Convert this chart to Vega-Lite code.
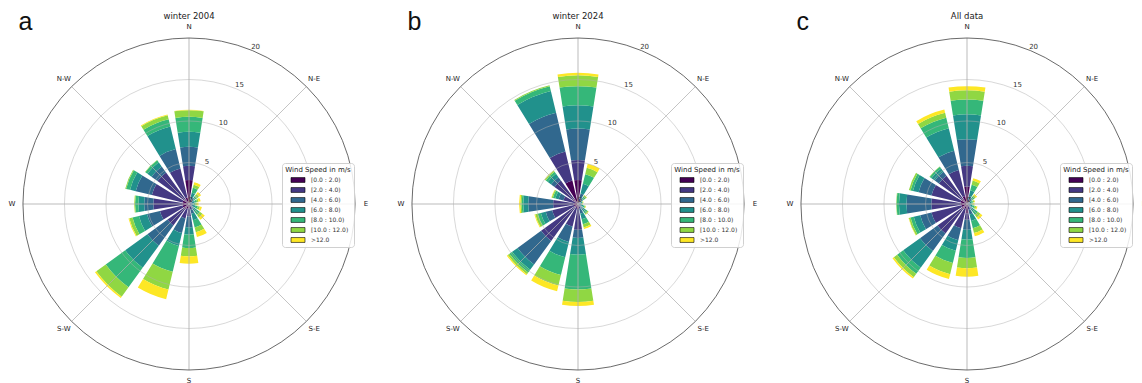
{
"$schema": "https://vega.github.io/schema/vega-lite/v6.json",
"padding": 0,
"spacing": 11,
"config": {"font": "DejaVu Sans", "view": {"stroke": null}},
"resolve": {"scale": {"color": "independent"}, "legend": {"color": "independent"}},
"datasets": {
"bins": [
{"key":"b0","label":"[0.0 : 2.0)"},{"key":"b1","label":"[2.0 : 4.0)"},{"key":"b2","label":"[4.0 : 6.0)"},{"key":"b3","label":"[6.0 : 8.0)"},{"key":"b4","label":"[8.0 : 10.0)"},{"key":"b5","label":"[10.0 : 12.0)"},{"key":"b6","label":">12.0"}],
"dirs": [{"lab":"N","deg":0},{"lab":"N-E","deg":45},{"lab":"E","deg":90},{"lab":"S-E","deg":135},{"lab":"S","deg":180},{"lab":"S-W","deg":225},{"lab":"W","deg":270},{"lab":"N-W","deg":315}],
"ticks": [{"v":0,"t":"0"},{"v":5,"t":"5"},{"v":10,"t":"10"},{"v":15,"t":"15"},{"v":20,"t":"20"}],
"rings": [{"r":5},{"r":10},{"r":15}],
"outer": [{"r":20}],
"rose": [
{"p":"a","dir":0,"b0":2.9,"b1":1.7,"b2":2.3,"b3":1.8,"b4":1.8,"b5":0.8,"b6":0.05},
{"p":"a","dir":22.5,"b0":0.3,"b1":0.3,"b2":0.3,"b3":0.5,"b4":0.6,"b5":0.4,"b6":0.3},
{"p":"a","dir":45,"b0":0.2,"b1":0.2,"b2":0.2,"b3":0.3,"b4":0.3,"b5":0.3,"b6":0.3},
{"p":"a","dir":67.5,"b0":0.15,"b1":0.15,"b2":0.2,"b3":0.2,"b4":0.3,"b5":0.2,"b6":0.25},
{"p":"a","dir":90,"b0":0.1,"b1":0.1,"b2":0.15,"b3":0.2,"b4":0.2,"b5":0.2,"b6":0.2},
{"p":"a","dir":112.5,"b0":0.15,"b1":0.15,"b2":0.2,"b3":0.3,"b4":0.3,"b5":0.25,"b6":0.25},
{"p":"a","dir":135,"b0":0.2,"b1":0.2,"b2":0.3,"b3":0.4,"b4":0.5,"b5":0.4,"b6":0.35},
{"p":"a","dir":157.5,"b0":0.3,"b1":0.4,"b2":0.5,"b3":0.8,"b4":0.9,"b5":0.6,"b6":0.6},
{"p":"a","dir":180,"b0":0.5,"b1":1.0,"b2":1.3,"b3":0.9,"b4":1.6,"b5":1.0,"b6":0.9},
{"p":"a","dir":202.5,"b0":0.6,"b1":1.2,"b2":1.8,"b3":1.6,"b4":3.2,"b5":2.2,"b6":1.2},
{"p":"a","dir":225,"b0":0.8,"b1":2.4,"b2":3.0,"b3":3.3,"b4":2.9,"b5":1.4,"b6":0.2},
{"p":"a","dir":247.5,"b0":0.8,"b1":2.8,"b2":1.6,"b3":1.0,"b4":0.8,"b5":0.4,"b6":0.1},
{"p":"a","dir":270,"b0":0.8,"b1":3.5,"b2":1.1,"b3":0.7,"b4":0.4,"b5":0.1,"b6":0.02},
{"p":"a","dir":292.5,"b0":0.8,"b1":3.8,"b2":2.0,"b3":0.7,"b4":0.5,"b5":0.1,"b6":0},
{"p":"a","dir":315,"b0":0.7,"b1":4.0,"b2":0.9,"b3":0.6,"b4":0.3,"b5":0.05,"b6":0},
{"p":"a","dir":337.5,"b0":0.8,"b1":3.6,"b2":2.4,"b3":2.8,"b4":0.9,"b5":0.5,"b6":0.1},
{"p":"b","dir":0,"b0":2.9,"b1":2.4,"b2":3.8,"b3":2.8,"b4":2.3,"b5":1.3,"b6":0.3},
{"p":"b","dir":22.5,"b0":0.3,"b1":0.4,"b2":0.6,"b3":1.2,"b4":1.2,"b5":0.8,"b6":0.5},
{"p":"b","dir":45,"b0":0.1,"b1":0.1,"b2":0.2,"b3":0.4,"b4":0.3,"b5":0.2,"b6":0.05},
{"p":"b","dir":67.5,"b0":0.1,"b1":0.1,"b2":0.15,"b3":0.15,"b4":0.1,"b5":0.05,"b6":0.05},
{"p":"b","dir":90,"b0":0.1,"b1":0.1,"b2":0.1,"b3":0.1,"b4":0.1,"b5":0.05,"b6":0.05},
{"p":"b","dir":112.5,"b0":0.1,"b1":0.15,"b2":0.2,"b3":0.2,"b4":0.2,"b5":0.1,"b6":0.05},
{"p":"b","dir":135,"b0":0.15,"b1":0.25,"b2":0.3,"b3":0.4,"b4":0.3,"b5":0.15,"b6":0.05},
{"p":"b","dir":157.5,"b0":0.2,"b1":0.4,"b2":0.6,"b3":0.7,"b4":0.6,"b5":0.4,"b6":0.2},
{"p":"b","dir":180,"b0":0.6,"b1":2.5,"b2":1.0,"b3":2.0,"b4":4.2,"b5":1.5,"b6":0.5},
{"p":"b","dir":202.5,"b0":0.5,"b1":2.3,"b2":1.9,"b3":1.9,"b4":2.2,"b5":1.3,"b6":0.7},
{"p":"b","dir":225,"b0":0.5,"b1":5.0,"b2":3.5,"b3":0.8,"b4":0.4,"b5":0.25,"b6":0.15},
{"p":"b","dir":247.5,"b0":0.5,"b1":2.7,"b2":0.8,"b3":0.6,"b4":0.4,"b5":0.3,"b6":0.1},
{"p":"b","dir":270,"b0":0.5,"b1":2.5,"b2":3.0,"b3":0.6,"b4":0.2,"b5":0.15,"b6":0.15},
{"p":"b","dir":292.5,"b0":0.4,"b1":1.4,"b2":0.6,"b3":0.4,"b4":0.3,"b5":0.15,"b6":0.05},
{"p":"b","dir":315,"b0":0.8,"b1":2.7,"b2":0.5,"b3":0.5,"b4":0.3,"b5":0.15,"b6":0.05},
{"p":"b","dir":337.5,"b0":2.9,"b1":3.6,"b2":4.8,"b3":2.7,"b4":0.6,"b5":0.1,"b6":0},
{"p":"c","dir":0,"b0":2.1,"b1":2.5,"b2":3.2,"b3":3.0,"b4":1.8,"b5":1.1,"b6":0.5},
{"p":"c","dir":22.5,"b0":0.3,"b1":0.3,"b2":0.4,"b3":0.7,"b4":0.7,"b5":0.5,"b6":0.3},
{"p":"c","dir":45,"b0":0.2,"b1":0.15,"b2":0.2,"b3":0.25,"b4":0.3,"b5":0.2,"b6":0.2},
{"p":"c","dir":67.5,"b0":0.1,"b1":0.1,"b2":0.15,"b3":0.2,"b4":0.2,"b5":0.15,"b6":0.1},
{"p":"c","dir":90,"b0":0.1,"b1":0.1,"b2":0.15,"b3":0.15,"b4":0.15,"b5":0.15,"b6":0.1},
{"p":"c","dir":112.5,"b0":0.1,"b1":0.15,"b2":0.2,"b3":0.25,"b4":0.25,"b5":0.2,"b6":0.15},
{"p":"c","dir":135,"b0":0.2,"b1":0.2,"b2":0.3,"b3":0.4,"b4":0.5,"b5":0.4,"b6":0.3},
{"p":"c","dir":157.5,"b0":0.3,"b1":0.4,"b2":0.6,"b3":0.8,"b4":0.9,"b5":0.6,"b6":0.4},
{"p":"c","dir":180,"b0":1.1,"b1":0.8,"b2":1.2,"b3":1.2,"b4":2.2,"b5":1.25,"b6":1.0},
{"p":"c","dir":202.5,"b0":0.6,"b1":2.4,"b2":1.5,"b3":1.3,"b4":1.5,"b5":1.4,"b6":0.6},
{"p":"c","dir":225,"b0":0.8,"b1":3.6,"b2":2.6,"b3":2.5,"b4":0.9,"b5":0.5,"b6":0.2},
{"p":"c","dir":247.5,"b0":0.7,"b1":3.7,"b2":1.4,"b3":0.8,"b4":0.4,"b5":0.2,"b6":0.05},
{"p":"c","dir":270,"b0":0.8,"b1":3.5,"b2":3.0,"b3":0.9,"b4":0.3,"b5":0.05,"b6":0},
{"p":"c","dir":292.5,"b0":0.8,"b1":3.6,"b2":1.6,"b3":0.7,"b4":0.3,"b5":0.2,"b6":0},
{"p":"c","dir":315,"b0":0.8,"b1":3.4,"b2":0.6,"b3":0.5,"b4":0.25,"b5":0.05,"b6":0},
{"p":"c","dir":337.5,"b0":1.0,"b1":3.2,"b2":2.4,"b3":2.8,"b4":1.3,"b5":0.6,"b6":0.4}
]
},
"hconcat": [
{
"width": 378, "height": 408,
"title": {"text": "winter 2004", "fontSize": 8.5, "fontWeight": "normal", "color": "#222", "offset": -20, "anchor": "middle"},
"layer": [
{"data": {"name": "rose"},
 "transform": [
  {"filter": "datum.p == 'a'"},
  {"fold": ["b0","b1","b2","b3","b4","b5","b6"], "as": ["key","freq"]},
  {"lookup": "key", "from": {"data": {"name": "bins"}, "key": "key", "fields": ["label"]}},
  {"stack": "freq", "groupby": ["dir"], "sort": [{"field": "key", "order": "ascending"}], "as": ["r0","r1"]},
  {"calculate": "datum.dir - 9", "as": "a0"},
  {"calculate": "datum.dir + 9", "as": "a1"}
 ],
 "mark": {"type": "arc"},
 "encoding": {
  "theta": {"field": "a0", "type": "quantitative", "stack": null, "scale": {"domain": [0,360], "range": [0,6.283185307179586]}},
  "theta2": {"field": "a1"},
  "radius": {"field": "r1", "type": "quantitative", "stack": null, "scale": {"type": "linear", "domain": [0,20], "range": [0,166], "zero": true}},
  "radius2": {"field": "r0"},
  "color": {"field": "label", "type": "nominal",
   "scale": {"domain": ["[0.0 : 2.0)","[2.0 : 4.0)","[4.0 : 6.0)","[6.0 : 8.0)","[8.0 : 10.0)","[10.0 : 12.0)",">12.0"], "range": ["#440154","#443983","#31688e","#21918c","#35b779","#90d743","#fde725"]},
   "legend": {"title": "Wind Speed in m/s", "orient": "none", "legendX": 282, "legendY": 163, "titleFontSize": 7, "titleFontWeight": "normal", "titleColor": "#222", "titleAnchor": "middle", "titlePadding": 3, "labelFontSize": 6, "labelColor": "#333", "symbolType": "M-2,-0.7L2,-0.7L2,0.7L-2,0.7Z", "symbolSize": 49, "symbolStrokeColor": "black", "symbolStrokeWidth": 0.6, "symbolOffset": 6, "labelOffset": 9, "rowPadding": 2, "padding": 3, "fillColor": "rgba(255,255,255,0.85)", "strokeColor": "#d0d0d0", "cornerRadius": 3}}
 }},
{"data": {"name": "rings"}, "mark": {"type": "arc", "filled": false, "stroke": "#b0b0b0", "strokeWidth": 0.7, "strokeOpacity": 0.7},
 "encoding": {"theta": {"datum": 0, "type": "quantitative", "stack": null}, "theta2": {"datum": 360}, "radius": {"field": "r", "type": "quantitative", "stack": null}}},
{"data": {"name": "dirs"}, "mark": {"type": "arc", "filled": false, "stroke": "#b0b0b0", "strokeWidth": 0.7, "strokeOpacity": 0.7},
 "encoding": {"theta": {"field": "deg", "type": "quantitative", "stack": null}, "theta2": {"field": "deg"}, "radius": {"datum": 20, "type": "quantitative", "stack": null}}},
{"data": {"name": "outer"}, "mark": {"type": "arc", "filled": false, "stroke": "#444", "strokeWidth": 0.8},
 "encoding": {"theta": {"datum": 0, "type": "quantitative", "stack": null}, "theta2": {"datum": 360}, "radius": {"field": "r", "type": "quantitative", "stack": null}}},
{"data": {"name": "dirs"}, "mark": {"type": "text", "radiusOffset": 11, "fontSize": 7, "color": "#222"},
 "encoding": {"theta": {"field": "deg", "type": "quantitative", "stack": null}, "radius": {"datum": 20, "type": "quantitative", "stack": null}, "text": {"field": "lab"}}},
{"data": {"name": "ticks"}, "mark": {"type": "text", "radiusOffset": 4.5, "fontSize": 7, "color": "#333"},
 "encoding": {"theta": {"datum": 23, "type": "quantitative", "stack": null}, "radius": {"field": "v", "type": "quantitative", "stack": null}, "text": {"field": "t"}}},
{"data": {"values": [{"t": "a"}]}, "mark": {"type": "text", "fontSize": 25, "font": "Liberation Sans", "align": "left", "baseline": "alphabetic", "color": "#111"},
 "encoding": {"theta": {"datum": 315.6, "type": "quantitative", "stack": null}, "radius": {"datum": 29.35, "type": "quantitative", "stack": null}, "text": {"field": "t"}}}
]
},
{
"width": 378, "height": 408,
"title": {"text": "winter 2024", "fontSize": 8.5, "fontWeight": "normal", "color": "#222", "offset": -20, "anchor": "middle"},
"layer": [
{"data": {"name": "rose"},
 "transform": [
  {"filter": "datum.p == 'b'"},
  {"fold": ["b0","b1","b2","b3","b4","b5","b6"], "as": ["key","freq"]},
  {"lookup": "key", "from": {"data": {"name": "bins"}, "key": "key", "fields": ["label"]}},
  {"stack": "freq", "groupby": ["dir"], "sort": [{"field": "key", "order": "ascending"}], "as": ["r0","r1"]},
  {"calculate": "datum.dir - 9", "as": "a0"},
  {"calculate": "datum.dir + 9", "as": "a1"}
 ],
 "mark": {"type": "arc"},
 "encoding": {
  "theta": {"field": "a0", "type": "quantitative", "stack": null, "scale": {"domain": [0,360], "range": [0,6.283185307179586]}},
  "theta2": {"field": "a1"},
  "radius": {"field": "r1", "type": "quantitative", "stack": null, "scale": {"type": "linear", "domain": [0,20], "range": [0,166], "zero": true}},
  "radius2": {"field": "r0"},
  "color": {"field": "label", "type": "nominal",
   "scale": {"domain": ["[0.0 : 2.0)","[2.0 : 4.0)","[4.0 : 6.0)","[6.0 : 8.0)","[8.0 : 10.0)","[10.0 : 12.0)",">12.0"], "range": ["#440154","#443983","#31688e","#21918c","#35b779","#90d743","#fde725"]},
   "legend": {"title": "Wind Speed in m/s", "orient": "none", "legendX": 282, "legendY": 163, "titleFontSize": 7, "titleFontWeight": "normal", "titleColor": "#222", "titleAnchor": "middle", "titlePadding": 3, "labelFontSize": 6, "labelColor": "#333", "symbolType": "M-2,-0.7L2,-0.7L2,0.7L-2,0.7Z", "symbolSize": 49, "symbolStrokeColor": "black", "symbolStrokeWidth": 0.6, "symbolOffset": 6, "labelOffset": 9, "rowPadding": 2, "padding": 3, "fillColor": "rgba(255,255,255,0.85)", "strokeColor": "#d0d0d0", "cornerRadius": 3}}
 }},
{"data": {"name": "rings"}, "mark": {"type": "arc", "filled": false, "stroke": "#b0b0b0", "strokeWidth": 0.7, "strokeOpacity": 0.7},
 "encoding": {"theta": {"datum": 0, "type": "quantitative", "stack": null}, "theta2": {"datum": 360}, "radius": {"field": "r", "type": "quantitative", "stack": null}}},
{"data": {"name": "dirs"}, "mark": {"type": "arc", "filled": false, "stroke": "#b0b0b0", "strokeWidth": 0.7, "strokeOpacity": 0.7},
 "encoding": {"theta": {"field": "deg", "type": "quantitative", "stack": null}, "theta2": {"field": "deg"}, "radius": {"datum": 20, "type": "quantitative", "stack": null}}},
{"data": {"name": "outer"}, "mark": {"type": "arc", "filled": false, "stroke": "#444", "strokeWidth": 0.8},
 "encoding": {"theta": {"datum": 0, "type": "quantitative", "stack": null}, "theta2": {"datum": 360}, "radius": {"field": "r", "type": "quantitative", "stack": null}}},
{"data": {"name": "dirs"}, "mark": {"type": "text", "radiusOffset": 11, "fontSize": 7, "color": "#222"},
 "encoding": {"theta": {"field": "deg", "type": "quantitative", "stack": null}, "radius": {"datum": 20, "type": "quantitative", "stack": null}, "text": {"field": "lab"}}},
{"data": {"name": "ticks"}, "mark": {"type": "text", "radiusOffset": 4.5, "fontSize": 7, "color": "#333"},
 "encoding": {"theta": {"datum": 23, "type": "quantitative", "stack": null}, "radius": {"field": "v", "type": "quantitative", "stack": null}, "text": {"field": "t"}}},
{"data": {"values": [{"t": "b"}]}, "mark": {"type": "text", "fontSize": 25, "font": "Liberation Sans", "align": "left", "baseline": "alphabetic", "color": "#111"},
 "encoding": {"theta": {"datum": 315.6, "type": "quantitative", "stack": null}, "radius": {"datum": 29.35, "type": "quantitative", "stack": null}, "text": {"field": "t"}}}
]
},
{
"width": 378, "height": 408,
"title": {"text": "All data", "fontSize": 8.5, "fontWeight": "normal", "color": "#222", "offset": -20, "anchor": "middle"},
"layer": [
{"data": {"name": "rose"},
 "transform": [
  {"filter": "datum.p == 'c'"},
  {"fold": ["b0","b1","b2","b3","b4","b5","b6"], "as": ["key","freq"]},
  {"lookup": "key", "from": {"data": {"name": "bins"}, "key": "key", "fields": ["label"]}},
  {"stack": "freq", "groupby": ["dir"], "sort": [{"field": "key", "order": "ascending"}], "as": ["r0","r1"]},
  {"calculate": "datum.dir - 9", "as": "a0"},
  {"calculate": "datum.dir + 9", "as": "a1"}
 ],
 "mark": {"type": "arc"},
 "encoding": {
  "theta": {"field": "a0", "type": "quantitative", "stack": null, "scale": {"domain": [0,360], "range": [0,6.283185307179586]}},
  "theta2": {"field": "a1"},
  "radius": {"field": "r1", "type": "quantitative", "stack": null, "scale": {"type": "linear", "domain": [0,20], "range": [0,166], "zero": true}},
  "radius2": {"field": "r0"},
  "color": {"field": "label", "type": "nominal",
   "scale": {"domain": ["[0.0 : 2.0)","[2.0 : 4.0)","[4.0 : 6.0)","[6.0 : 8.0)","[8.0 : 10.0)","[10.0 : 12.0)",">12.0"], "range": ["#440154","#443983","#31688e","#21918c","#35b779","#90d743","#fde725"]},
   "legend": {"title": "Wind Speed in m/s", "orient": "none", "legendX": 282, "legendY": 163, "titleFontSize": 7, "titleFontWeight": "normal", "titleColor": "#222", "titleAnchor": "middle", "titlePadding": 3, "labelFontSize": 6, "labelColor": "#333", "symbolType": "M-2,-0.7L2,-0.7L2,0.7L-2,0.7Z", "symbolSize": 49, "symbolStrokeColor": "black", "symbolStrokeWidth": 0.6, "symbolOffset": 6, "labelOffset": 9, "rowPadding": 2, "padding": 3, "fillColor": "rgba(255,255,255,0.85)", "strokeColor": "#d0d0d0", "cornerRadius": 3}}
 }},
{"data": {"name": "rings"}, "mark": {"type": "arc", "filled": false, "stroke": "#b0b0b0", "strokeWidth": 0.7, "strokeOpacity": 0.7},
 "encoding": {"theta": {"datum": 0, "type": "quantitative", "stack": null}, "theta2": {"datum": 360}, "radius": {"field": "r", "type": "quantitative", "stack": null}}},
{"data": {"name": "dirs"}, "mark": {"type": "arc", "filled": false, "stroke": "#b0b0b0", "strokeWidth": 0.7, "strokeOpacity": 0.7},
 "encoding": {"theta": {"field": "deg", "type": "quantitative", "stack": null}, "theta2": {"field": "deg"}, "radius": {"datum": 20, "type": "quantitative", "stack": null}}},
{"data": {"name": "outer"}, "mark": {"type": "arc", "filled": false, "stroke": "#444", "strokeWidth": 0.8},
 "encoding": {"theta": {"datum": 0, "type": "quantitative", "stack": null}, "theta2": {"datum": 360}, "radius": {"field": "r", "type": "quantitative", "stack": null}}},
{"data": {"name": "dirs"}, "mark": {"type": "text", "radiusOffset": 11, "fontSize": 7, "color": "#222"},
 "encoding": {"theta": {"field": "deg", "type": "quantitative", "stack": null}, "radius": {"datum": 20, "type": "quantitative", "stack": null}, "text": {"field": "lab"}}},
{"data": {"name": "ticks"}, "mark": {"type": "text", "radiusOffset": 4.5, "fontSize": 7, "color": "#333"},
 "encoding": {"theta": {"datum": 23, "type": "quantitative", "stack": null}, "radius": {"field": "v", "type": "quantitative", "stack": null}, "text": {"field": "t"}}},
{"data": {"values": [{"t": "c"}]}, "mark": {"type": "text", "fontSize": 25, "font": "Liberation Sans", "align": "left", "baseline": "alphabetic", "color": "#111"},
 "encoding": {"theta": {"datum": 315.6, "type": "quantitative", "stack": null}, "radius": {"datum": 29.35, "type": "quantitative", "stack": null}, "text": {"field": "t"}}}
]
}
]
}
